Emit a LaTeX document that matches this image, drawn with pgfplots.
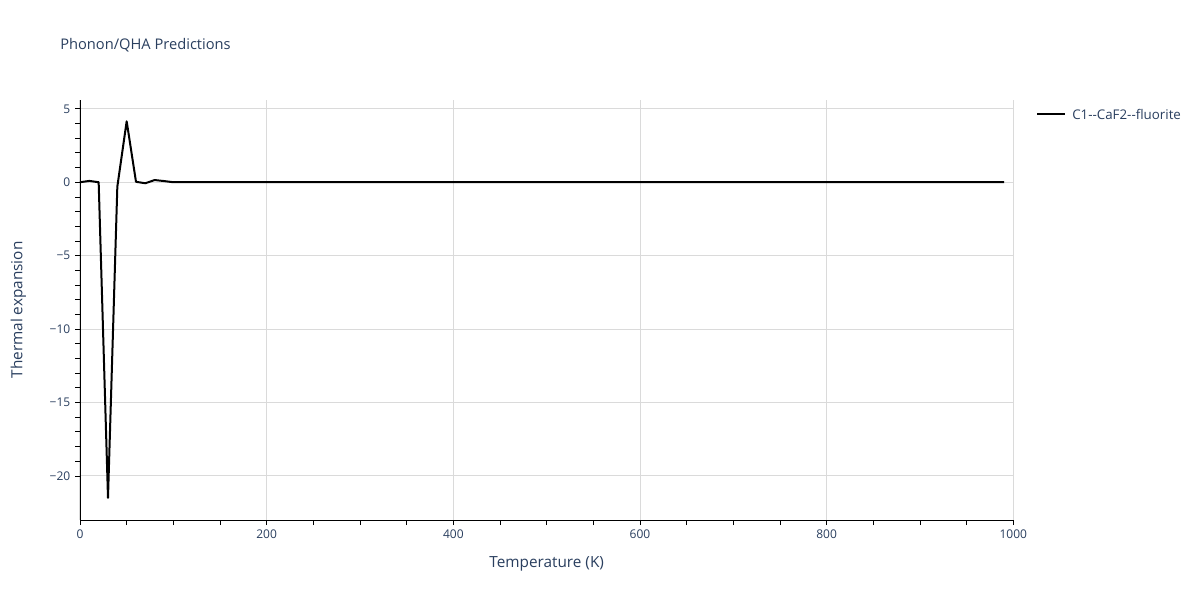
\documentclass[border=0pt]{standalone}
\usepackage{pgfplots}
\pgfplotsset{compat=1.18}
\usepackage{fontspec}
\setmainfont{Open Sans}
\definecolor{plotlytext}{HTML}{2A3F5F}
\definecolor{gridc}{HTML}{DADADA}
\begin{document}
\begin{tikzpicture}
\path[fill=white] (0pt,0pt) rectangle (900pt,450pt);
\begin{axis}[
  at={(60pt,60pt)}, anchor=south west,
  scale only axis, width=700pt, height=315pt,
  xmin=0, xmax=1000, ymin=-23, ymax=5.6,
  axis lines*=left,
  axis line style={black, line width=0.7pt},
  xtick={0,200,400,600,800,1000},
  minor x tick num=3,
  ytick={-20,-15,-10,-5,0,5},
  yticklabels={−20,−15,−10,−5,0,5},
  minor y tick num=4,
  tick align=outside,
  major tick length=3.75pt, minor tick length=3.75pt,
  tick style={black, line width=0.6pt},
  xmajorgrids, ymajorgrids,
  major grid style={gridc, line width=0.75pt},
  every tick label/.style={font=\fontsize{9}{11}\selectfont, text=plotlytext},
  /pgf/number format/assume math mode=true,
  /pgf/number format/1000 sep={},
  xlabel={Temperature (K)}, ylabel={Thermal expansion},
  label style={font=\fontsize{11.5}{13}\selectfont, text=plotlytext},
  xlabel style={at={(axis description cs:0.5,0)}, anchor=north, yshift=-24pt},
  ylabel style={at={(axis description cs:0,0.5)}, anchor=south, yshift=37pt},
  clip=false,
]
\addplot[black, line width=1.5pt, line join=round] coordinates {
(0,0) (10,0.09) (20,0) (30,-21.5) (40,-0.3) (50,4.15) (60,0.03) (70,-0.07) (80,0.15) (90,0.08) (100,0)
(110,0) (120,0) (130,0) (140,0) (150,0) (160,0) (170,0) (180,0) (190,0) (200,0)
(210,0) (220,0) (230,0) (240,0) (250,0) (260,0) (270,0) (280,0) (290,0) (300,0)
(310,0) (320,0) (330,0) (340,0) (350,0) (360,0) (370,0) (380,0) (390,0) (400,0)
(410,0) (420,0) (430,0) (440,0) (450,0) (460,0) (470,0) (480,0) (490,0) (500,0)
(510,0) (520,0) (530,0) (540,0) (550,0) (560,0) (570,0) (580,0) (590,0) (600,0)
(610,0) (620,0) (630,0) (640,0) (650,0) (660,0) (670,0) (680,0) (690,0) (700,0)
(710,0) (720,0) (730,0) (740,0) (750,0) (760,0) (770,0) (780,0) (790,0) (800,0)
(810,0) (820,0) (830,0) (840,0) (850,0) (860,0) (870,0) (880,0) (890,0) (900,0)
(910,0) (920,0) (930,0) (940,0) (950,0) (960,0) (970,0) (980,0) (990,0)
};
\end{axis}
\node[anchor=west, text=plotlytext, font=\fontsize{11}{13}\selectfont, inner sep=0pt] at (45pt,416pt) {Phonon/QHA Predictions};
\draw[black, line width=1.5pt] (778pt,364.5pt) -- (799pt,364.5pt);
\node[anchor=west, text=plotlytext, font=\fontsize{10}{12}\selectfont, inner sep=0pt] at (804pt,364.5pt) {C1{-}{-}CaF2{-}{-}fluorite};
\end{tikzpicture}
\end{document}
